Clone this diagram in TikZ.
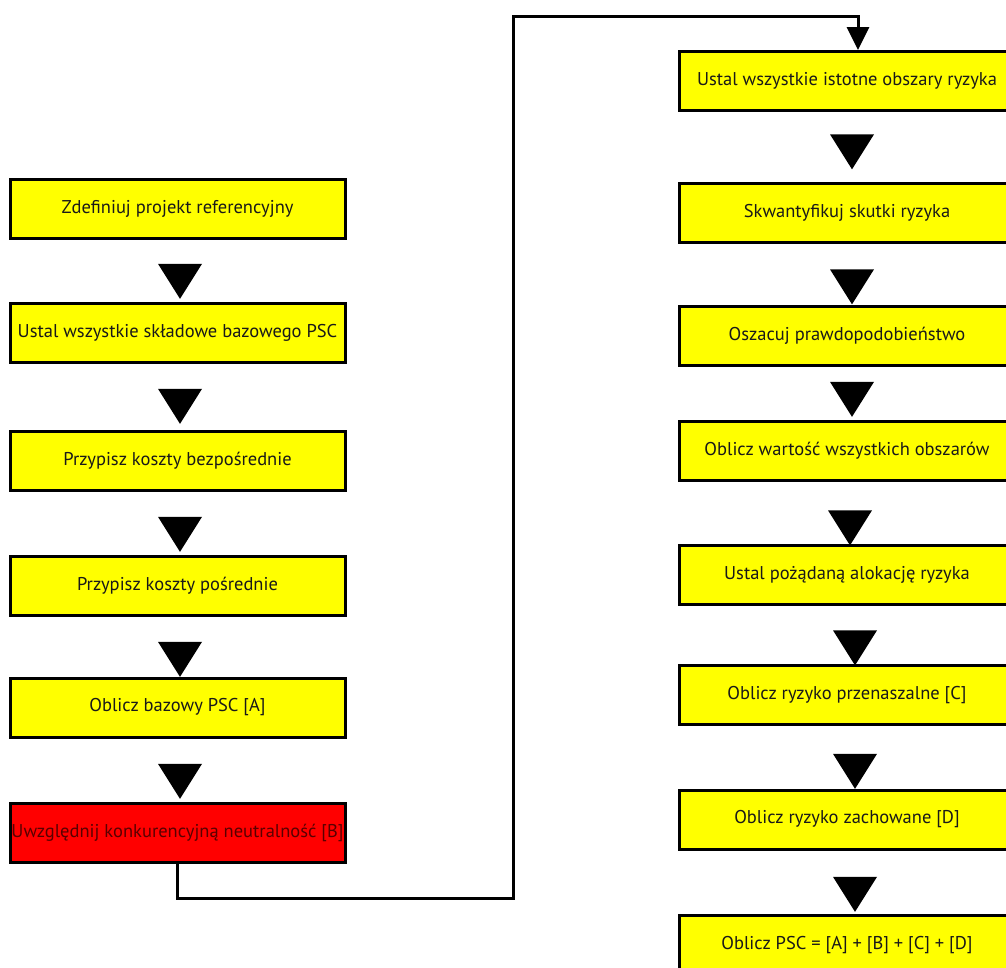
\documentclass[tikz,border=0pt]{standalone}
\usepackage{fontspec}
\setmainfont{PT Sans}
\usepackage{tikz}
\usetikzlibrary{shapes,arrows.meta,positioning,calc}
\usepackage{xcolor}
\definecolor{boxyellow}{RGB}{255,255,0}
\definecolor{boxred}{RGB}{255,0,0}

\begin{document}
\begin{tikzpicture}[
    x=1pt, y=-1pt,
    box/.style={rectangle, draw=black, fill=boxyellow, line width=3pt,
                minimum width=335pt, minimum height=59pt, inner sep=0pt,
                text=black!90, font=\fontsize{18.5}{22}\selectfont},
    redbox/.style={box, fill=boxred, text=red!35!black},
    downtri/.style={isosceles triangle, shape border rotate=270, isosceles triangle stretches,
                    fill=black, draw=none, minimum width=44pt, minimum height=35pt, inner sep=0pt},
    link/.style={line width=3pt, line join=miter},
    arr/.style={link, -{Triangle[length=23pt, width=22pt]}}
]
\clip (0,0) rectangle (1006,967);

% left column: base PSC
\node[box] (refproj) at (177.5,209) {Zdefiniuj projekt referencyjny};
\node[box] (parts) at (177.5,333) {Ustal wszystkie składowe bazowego PSC};
\node[box] (direct) at (177.5,461) {Przypisz koszty bezpośrednie};
\node[box] (indirect) at (177.5,585.5) {Przypisz koszty pośrednie};
\node[box] (basepsc) at (177.5,707.5) {Oblicz bazowy PSC [A]};
\node[redbox] (neutral) at (177.5,832.5) {Uwzględnij konkurencyjną neutralność [B]};

\node[downtri] (l1) at (180,276) {};
\node[downtri] (l2) at (180,401) {};
\node[downtri] (l3) at (180,529) {};
\node[downtri] (l4) at (180,654) {};
\node[downtri] (l5) at (180,776) {};

% right column: risk
\node[box] (areas) at (847,81) {Ustal wszystkie istotne obszary ryzyka};
\node[box] (effects) at (847,213) {Skwantyfikuj skutki ryzyka};
\node[box] (prob) at (847,335.5) {Oszacuj prawdopodobieństwo};
\node[box] (value) at (847,450.5) {Oblicz wartość wszystkich obszarów};
\node[box] (alloc) at (847,575) {Ustal pożądaną alokację ryzyka};
\node[box] (transf) at (847,695) {Oblicz ryzyko przenaszalne [C]};
\node[box] (kept) at (847,819.5) {Oblicz ryzyko zachowane [D]};
\node[box] (total) at (847,945) {Oblicz PSC = [A] + [B] + [C] + [D]};

\node[downtri] (r1) at (852,146.5) {};
\node[downtri] (r2) at (852,281.5) {};
\node[downtri] (r3) at (852,394) {};
\node[downtri] (r4) at (850,522.5) {};
\node[downtri] (r5) at (855,642.5) {};
\node[downtri] (r6) at (855,766) {};
\node[downtri] (r7) at (855,889) {};

% jump from left to right column
\coordinate (lowturn) at (513,898);
\coordinate (topturn) at (513,16);
\draw[arr] (neutral.south) |- (lowturn) -- (topturn) -| ([xshift=11pt]areas.north);
\end{tikzpicture}
\end{document}
